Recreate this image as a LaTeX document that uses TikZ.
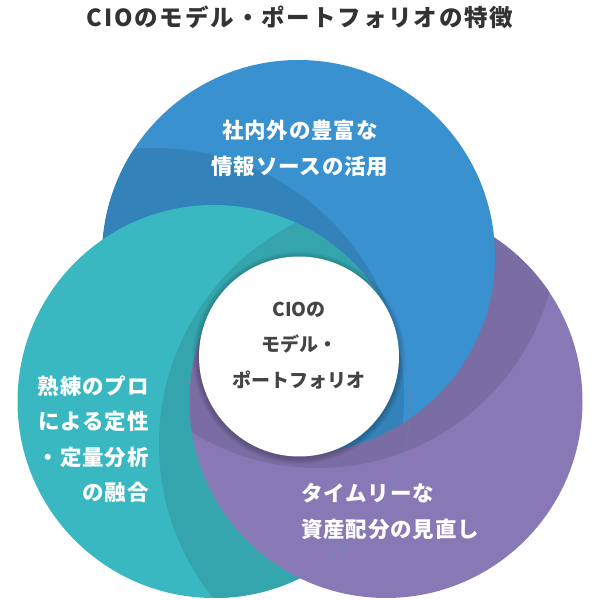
\documentclass[tikz,border=0pt]{standalone}
\usepackage{fontspec}
\usepackage{xcolor}
\usepackage{tikz}
\usetikzlibrary{calc}
\newfontfamily\jpfont{Noto Sans CJK JP}
\definecolor{cioblue}{HTML}{3991D0}
\definecolor{cioblueshade}{HTML}{3383BA}
\definecolor{cioteal}{HTML}{3AB8C1}
\definecolor{ciotealshade}{HTML}{34A5AD}
\definecolor{ciopurple}{HTML}{8879B6}
\definecolor{ciopurpleshade}{HTML}{7A6DA3}
\definecolor{ciotitle}{HTML}{333333}
\definecolor{ciocore}{HTML}{444444}
\newcommand{\discr}{196.5}
% each disc carries the shade that the disc lying over it throws on it
\newcommand{\paintblue}{%
  \fill[bluedisc] (bluec) circle[radius=\discr];
  \begin{scope}
    \clip (bluec) circle[radius=\discr];
    \fill[blueshade] (tealshadow) circle[radius=249];
  \end{scope}}
\newcommand{\paintteal}{%
  \fill[tealdisc] (tealc) circle[radius=\discr];
  \begin{scope}
    \clip (tealc) circle[radius=\discr];
    \fill[tealshade] (purpleshadow) circle[radius=247];
  \end{scope}}
\newcommand{\paintpurple}{%
  \fill[purpledisc] (purplec) circle[radius=\discr];
  \begin{scope}
    \clip (purplec) circle[radius=\discr];
    \fill[purpleshade] (blueshadow) circle[radius=240];
  \end{scope}}
\tikzset{
  bluedisc/.style={fill=cioblue},
  tealdisc/.style={fill=cioteal},
  purpledisc/.style={fill=ciopurple},
  blueshade/.style={fill=cioblueshade},
  tealshade/.style={fill=ciotealshade},
  purpleshade/.style={fill=ciopurpleshade},
  corewhite/.style={fill=white},
  titlelabel/.style={text=ciotitle, inner sep=0pt,
    font=\jpfont\bfseries\fontsize{23.5}{26}\selectfont\addfontfeatures{LetterSpace=8}},
  disclabel/.style={text=white, inner sep=0pt,
    font=\jpfont\bfseries\fontsize{21.5}{35.5}\selectfont\addfontfeatures{LetterSpace=4}},
  corelabel/.style={text=ciocore, inner sep=0pt, align=center,
    font=\jpfont\bfseries\fontsize{19}{35.5}\selectfont},
}

\begin{document}
\begin{tikzpicture}[x=1pt, y=1pt]
  \useasboundingbox (0,0) rectangle (600,600);

  % Disc centres, shade centres and the middle of the swirl
  \coordinate (bluec) at (298.5,343.5);
  \coordinate (tealc) at (214,198.5);
  \coordinate (purplec) at (386,198.5);
  \coordinate (tealshadow) at (155,203);
  \coordinate (purpleshadow) at (406,156);
  \coordinate (blueshadow) at (318,372);
  \coordinate (swirl) at (299.5,247);
  \coordinate (corec) at (299,243.5);

  % Three discs: teal over blue, blue over purple, purple over teal
  \paintpurple
  \paintblue
  \paintteal
  \begin{scope}
    \clip (tealc) circle[radius=\discr];
    \paintpurple
  \end{scope}
  % where all three meet, the winner turns with the swirl
  \begin{scope}
    \clip (bluec) circle[radius=\discr];
    \clip (purplec) circle[radius=\discr];
    \clip (swirl) -- ++(30:500) -- ++(150:500) -- ($(swirl)+(150:500)$) -- cycle;
    \paintteal
  \end{scope}
  \begin{scope}
    \clip (tealc) circle[radius=\discr];
    \clip (purplec) circle[radius=\discr];
    \clip (swirl) -- ($(swirl)+(270:500)$) -- ($(swirl)+(330:500)$) -- ($(swirl)+(30:500)$) -- cycle;
    \paintblue
  \end{scope}

  % White core with a soft shadow
  \foreach \k in {1,...,7}
    \fill[black, opacity=0.03] ($(corec)+(0,-1.5)$) circle[radius=100+0.9*\k];
  \fill[corewhite] (corec) circle[radius=100];

  % Texts
  \node[titlelabel] (title) at (300,583) {CIOのモデル・ポートフォリオの特徴};
  \node[disclabel, align=center] (bluetext) at (300,451.5) {社内外の豊富な\\情報ソースの活用};
  \node[disclabel, align=right, anchor=east] (tealtext) at (149,161) {熟練のプロ\\による定性\\・定量分析\\の融合};
  \node[disclabel, align=left, anchor=west] (purpletext) at (301,88.5) {タイムリーな\\資産配分の見直し};
  \node[corelabel] (core) at (299,254.5) {CIOの\\モデル・\\ポートフォリオ};
\end{tikzpicture}
\end{document}
